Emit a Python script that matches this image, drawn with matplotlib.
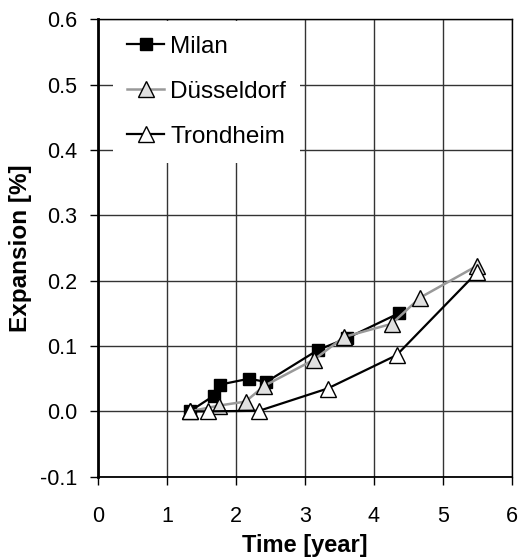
import numpy as np
import matplotlib.pyplot as plt

plt.rcParams['font.family'] = ['Liberation Sans', 'DejaVu Sans']

# expansion measurements per site
milan_t = [1.33, 1.68, 1.77, 2.19, 2.44, 3.19, 3.61, 4.36]
milan_e = [0.0, 0.024, 0.041, 0.050, 0.045, 0.094, 0.112, 0.150]

dus_t = [1.33, 1.76, 2.14, 2.41, 3.13, 3.57, 4.26, 4.67, 5.50]
dus_e = [0.0, 0.009, 0.015, 0.039, 0.079, 0.114, 0.134, 0.174, 0.223]

tro_t = [1.33, 1.59, 2.34, 3.33, 4.33, 5.50]
tro_e = [0.0, 0.0, 0.001, 0.035, 0.086, 0.213]

fig = plt.figure(figsize=(5.29, 5.60), dpi=100)
ax = fig.add_axes([0.1853, 0.1487, 0.782, 0.8168])

ax.plot(milan_t, milan_e, '-', color='black', lw=1.6, marker='s',
        ms=8.5, mfc='black', mec='black', label='Milan', zorder=3)
ax.plot(dus_t, dus_e, '-', color='#999999', lw=1.8, marker='^',
        ms=11, mfc='#e0e0e0', mec='black', mew=1.0, label='Düsseldorf', zorder=4)
ax.plot(tro_t, tro_e, '-', color='black', lw=1.6, marker='^',
        ms=11, mfc='white', mec='black', mew=1.0, label='Trondheim', zorder=5)

ax.set_xlim(0, 6)
ax.set_ylim(-0.1, 0.6)
ax.set_xticks(np.arange(0, 7, 1))
ax.set_yticks(np.arange(-0.1, 0.61, 0.1))
ax.set_yticklabels(['%.1f' % v for v in np.arange(-0.1, 0.61, 0.1)])
ax.grid(True, color='#333333', lw=1.0)
ax.set_axisbelow(True)

ax.tick_params(direction='out', length=6, width=1, labelsize=15.5, color='black')
ax.tick_params(axis='x', pad=15)
ax.tick_params(axis='y', pad=9)
for s in ax.spines.values():
    s.set_linewidth(1.0)
ax.spines['left'].set_linewidth(2.0)
ax.spines['bottom'].set_linewidth(1.3)

ax.set_xlabel('Time [year]', fontsize=17, fontweight='bold', labelpad=5)
ax.set_ylabel('Expansion [%]', fontsize=17.5, fontweight='bold', labelpad=6)

# legend box sits under the spines so the frame stays visible
leg = ax.legend(loc='upper left', bbox_to_anchor=(0.036, 0.996), borderaxespad=0,
                fontsize=17.5, frameon=True, framealpha=1, edgecolor='none',
                fancybox=False, handlelength=1.5, handletextpad=0.25,
                labelspacing=0.95, borderpad=0.6)
leg.set_zorder(2.4)

fig.savefig('out.png', dpi=100)
